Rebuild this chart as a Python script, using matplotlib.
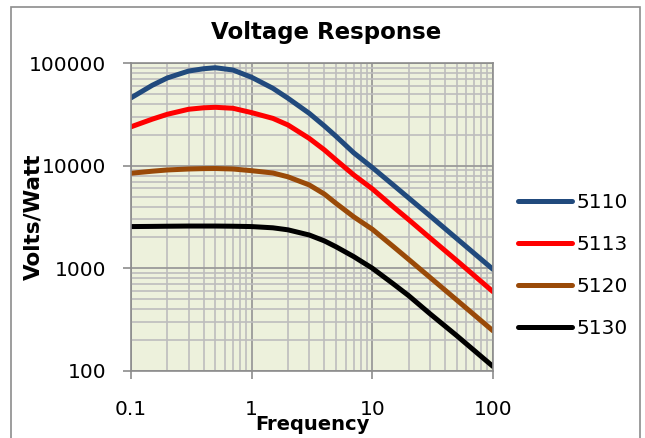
import matplotlib

matplotlib.use("Agg")
import matplotlib.pyplot as plt
from matplotlib.patches import Rectangle

# frequency points (Hz)
freq = [0.1, 0.15, 0.2, 0.3, 0.4, 0.5, 0.7, 1, 1.5, 2, 3, 4, 5, 7, 10, 15, 20, 30, 50, 100]

# Volts/Watt for each model
v5110 = [46000, 61000, 72000, 84000, 88500, 90500, 86000, 73000, 57000, 45600, 32500,
         24500, 19400, 13400, 9600, 6450, 4850, 3250, 1950, 975]
v5113 = [24000, 28500, 31800, 35600, 36800, 37200, 36400, 33000, 29000, 25000, 18500,
         14300, 11400, 8150, 5950, 3950, 2980, 1980, 1190, 590]
v5120 = [8450, 8850, 9100, 9300, 9380, 9400, 9300, 8950, 8500, 7800, 6500,
         5300, 4300, 3180, 2400, 1620, 1220, 815, 490, 245]
v5130 = [2550, 2560, 2570, 2580, 2580, 2580, 2570, 2550, 2480, 2370, 2110,
         1850, 1620, 1300, 1000, 700, 540, 360, 220, 110]

series = ["5110", "5113", "5120", "5130"]
values = [v5110, v5113, v5120, v5130]
colors = ["#214a7d", "#ff0000", "#9a4a08", "#000000"]

W, H = 645, 438
fig = plt.figure(figsize=(W / 100, H / 100), dpi=100)
fig.patch.set_facecolor("white")

# outer chart frame
fig.patches.append(Rectangle((11 / W, -0.05), (640 - 11) / W, 1.05 - 7 / H,
                             transform=fig.transFigure, fill=False,
                             edgecolor="#8c8c8c", linewidth=1.2))

ax = fig.add_axes([131 / W, 1 - 370.7 / H, (493 - 131) / W, (370.7 - 63.3) / H])
ax.set_facecolor("#edf1dc")

for name, ys, c in zip(series, values, colors):
    ax.plot(freq, ys, color=c, linewidth=3.6, label=name,
            solid_capstyle="round", solid_joinstyle="round")

ax.set_xscale("log")
ax.set_yscale("log")
ax.set_xlim(0.1, 100)
ax.set_ylim(100, 100000)

ax.set_xticks([0.1, 1, 10, 100])
ax.set_xticklabels(["0.1", "1", "10", "100"])
ax.set_yticks([100, 1000, 10000, 100000])
ax.set_yticklabels(["100", "1000", "10000", "100000"])

ax.grid(True, which="minor", color="#bdbdbd", linewidth=1.2)
ax.grid(True, which="major", color="#9a9a9a", linewidth=1.3)
ax.set_axisbelow(True)
ax.tick_params(which="minor", length=0)
ax.tick_params(which="major", direction="out", length=6, width=1.2, color="#8c8c8c",
               labelsize=14.5)
ax.tick_params(axis="y", pad=12)
ax.tick_params(axis="x", pad=15)
for s in ax.spines.values():
    s.set_color("#8c8c8c")
    s.set_linewidth(1.2)

fig.text(326 / W, 1 - 32 / H, "Voltage Response", ha="center", va="center",
         fontsize=16.5, fontweight="bold")
fig.text(312 / W, 1 - 424 / H, "Frequency", ha="center", va="center",
         fontsize=14, fontweight="bold")
fig.text(33 / W, 1 - 217 / H, "Volts/Watt", ha="center", va="center",
         rotation=90, fontsize=15.5, fontweight="bold")

fig.legend(loc="center left", bbox_to_anchor=(518 / W, 1 - 265.5 / H),
           frameon=False, fontsize=14.5, handlelength=2.7, handletextpad=0.2,
           labelspacing=1.15, borderpad=0, borderaxespad=0)

fig.savefig("out.png", dpi=100)
